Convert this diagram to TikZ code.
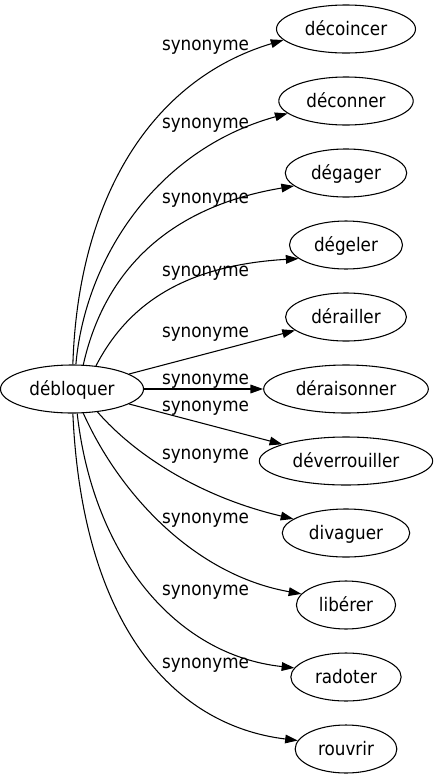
\documentclass[tikz,border=0pt]{standalone}
\usepackage{fontspec}
\setmainfont{DejaVu Sans}[FakeStretch=0.9]
\usetikzlibrary{shapes.geometric, arrows.meta}

\begin{document}
\begin{tikzpicture}[x=0.75pt, y=-0.75pt,
        font=\fontsize{14pt}{17pt}\selectfont,
        word/.style={ellipse, draw, line width=0.8pt, minimum height=36pt,
            inner xsep=6pt, inner ysep=2pt, text height=11pt, text depth=2pt},
        rel/.style={anchor=base, inner sep=0pt},
        syn/.style={line width=0.8pt, -{Triangle[length=9.5pt, width=6.5pt]}}]
        \useasboundingbox (0,0) rectangle (434,779);

        % source word
        \node[word] (deb) at (72,389) {débloquer};

        % synonyms (one column)
        \node[word] (t1) at (346,29) {décoincer};
        \node[word] (t2) at (346,101) {déconner};
        \node[word] (t3) at (346,173) {dégager};
        \node[word] (t4) at (346,245) {dégeler};
        \node[word] (t5) at (346,317) {dérailler};
        \node[word] (t6) at (346,389) {déraisonner};
        \node[word] (t7) at (346,461) {déverrouiller};
        \node[word] (t8) at (346,533) {divaguer};
        \node[word] (t9) at (346,605) {libérer};
        \node[word] (t10) at (346,677) {radoter};
        \node[word] (t11) at (346,749) {rouvrir};

        % edge labels
        \node[rel] (l1) at (205.5,50.7) {synonyme};
        \node[rel] (l2) at (205.5,128) {synonyme};
        \node[rel] (l3) at (205.5,203.3) {synonyme};
        \node[rel] (l4) at (205.5,276) {synonyme};
        \node[rel] (l5) at (205.5,337.5) {synonyme};
        \node[rel] (l6) at (205.5,384) {synonyme};
        \node[rel] (l7) at (205.5,411.7) {synonyme};
        \node[rel] (l8) at (205.5,459) {synonyme};
        \node[rel] (l9) at (205.5,523) {synonyme};
        \node[rel] (l10) at (205.5,595) {synonyme};
        \node[rel] (l11) at (205.5,668) {synonyme};

        % edges
        \draw[syn] (deb.88) .. controls (78,200) and (150,80) .. (t1.190);
        \draw[syn] (deb.81) .. controls (85,260) and (155,150) .. (t2.192);
        \draw[syn] (deb.65) .. controls (100,290) and (150,210) .. (t3.194);
        \draw[syn] (deb.44) .. controls (130,300) and (190,265) .. (t4.196);
        \draw[syn] (deb) -- (t5);
        \draw[syn] (deb) -- (t6);
        \draw[syn] (deb) -- (t7);
        \draw[syn] (deb.318) .. controls (135,455) and (200,497) .. (t8.165);
        \draw[syn] (deb.295) .. controls (120,495) and (195,575) .. (t9.166);
        \draw[syn] (deb.282) .. controls (93,555) and (175,655) .. (t10.170);
        \draw[syn] (deb.272) .. controls (82,620) and (170,725) .. (t11.170);
\end{tikzpicture}
\end{document}
